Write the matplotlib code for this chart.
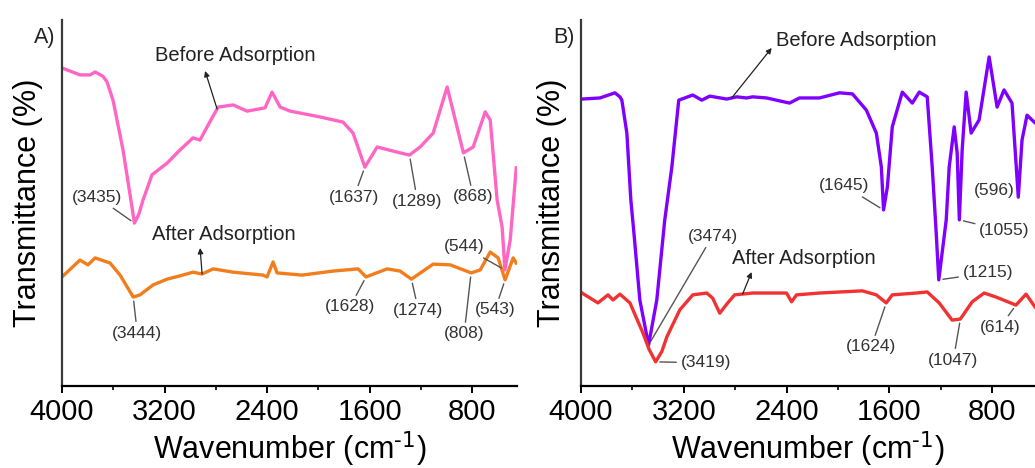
import numpy as np
import matplotlib
matplotlib.use("Agg")
import matplotlib.pyplot as plt
from matplotlib.ticker import MultipleLocator

plt.rcParams['font.family'] = ['Liberation Sans', 'DejaVu Sans']
plt.rcParams['mathtext.default'] = 'regular'

# FTIR spectra, panel A
wn_a_before = [4000, 3860, 3781, 3742, 3680, 3649, 3602, 3524, 3454, 3435, 3400, 3368, 3298, 3180,
               3079, 2978, 2923, 2868, 2782, 2665, 2556, 2416, 2361, 2298, 2220, 1986, 1807, 1729,
               1637, 1541, 1385, 1289, 1206, 1104, 995, 868, 792, 698, 659, 605, 566, 544, 503, 456]
t_a_before = [86.9, 85.0, 85.0, 85.8, 84.6, 83.1, 78.1, 64.5, 48.9, 44.5, 47.0, 50.8, 57.7, 60.9,
              64.5, 67.8, 67.2, 70.8, 76.2, 76.8, 75.1, 76.0, 80.3, 76.2, 75.1, 73.5, 72.1, 69.1,
              59.8, 65.3, 63.9, 63.1, 65.3, 69.1, 81.7, 63.7, 65.3, 74.9, 72.7, 50.8, 43.4, 31.7,
              39.9, 59.6]

wn_a_after = [4000, 3860, 3797, 3742, 3625, 3547, 3444, 3391, 3290, 3180, 3079, 2978, 2907, 2821,
              2665, 2431, 2400, 2353, 2322, 2127, 1885, 1690, 1628, 1463, 1362, 1274, 1104, 971,
              808, 737, 659, 597, 543, 480, 456]
t_a_after = [29.8, 34.4, 33.1, 35.0, 33.6, 30.3, 24.3, 24.9, 27.6, 29.2, 30.1, 31.1, 30.6, 32.0,
             31.1, 30.3, 29.8, 33.9, 30.9, 30.3, 31.4, 32.0, 29.8, 32.0, 31.4, 29.2, 33.3, 33.1,
             30.9, 31.7, 36.6, 35.0, 29.0, 35.0, 33.6]

# FTIR spectra, panel B
wn_b_before = [3992, 3852, 3736, 3697, 3682, 3643, 3612, 3588, 3542, 3474, 3410, 3348, 3293, 3239,
               3130, 3060, 2998, 2866, 2788, 2711, 2664, 2555, 2377, 2299, 2144, 1988, 1887, 1779,
               1701, 1662, 1645, 1615, 1577, 1499, 1421, 1367, 1305, 1266, 1235, 1215, 1157, 1134,
               1095, 1072, 1055, 1033, 1002, 963, 901, 823, 761, 707, 645, 596, 567, 528, 466]
t_b_before = [78.4, 78.7, 80.1, 79.0, 78.1, 69.1, 50.8, 41.8, 23.5, 11.2, 23.5, 45.4, 59.8, 78.1,
              79.5, 78.1, 79.2, 78.4, 79.0, 78.7, 79.0, 78.7, 77.3, 78.7, 78.7, 80.1, 79.8, 75.4,
              69.1, 59.8, 48.1, 54.4, 70.8, 80.3, 77.3, 80.3, 79.0, 59.8, 41.8, 29.0, 45.4, 59.8,
              70.8, 63.7, 45.4, 64.5, 80.3, 69.1, 72.7, 89.9, 76.2, 80.9, 77.3, 51.6, 67.2, 74.0,
              71.9]

wn_b_after = [3992, 3868, 3790, 3751, 3697, 3619, 3518, 3470, 3419, 3370, 3332, 3231, 3130, 3021,
              2975, 2920, 2858, 2804, 2664, 2400, 2361, 2322, 2144, 1810, 1701, 1624, 1577, 1390,
              1305, 1212, 1111, 1047, 955, 862, 769, 614, 536, 466]
t_b_after = [25.4, 22.7, 24.9, 23.5, 25.1, 22.7, 14.5, 10.0, 6.6, 9.5, 13.4, 20.8, 24.9, 25.4,
             24.0, 19.9, 22.7, 24.9, 25.4, 25.4, 23.0, 24.9, 25.4, 26.0, 24.9, 22.7, 24.9, 25.4,
             25.7, 22.7, 18.0, 18.3, 23.0, 25.4, 24.3, 22.1, 25.1, 21.6]

# labelled bands: (wavenumber, which curve, text offset in pixels)
peaks_a = [(3435, 'before', (-37, 26)), (1637, 'before', (-11, -30)), (1289, 'before', (8, -46)),
           (868, 'before', (10, -44)), (544, 'before', (-41, 23)),
           (3444, 'after', (4, -36)), (1628, 'after', (-16, -30)), (1274, 'after', (7, -31)),
           (808, 'after', (-7, -61)), (543, 'after', (-10, -30))]
peaks_b = [(1645, 'before', (-39, 24)), (596, 'before', (-24, 7)), (1055, 'before', (45, -11)),
           (1215, 'before', (49, 7)), (3474, 'before', (64, 109)),
           (3419, 'after', (50, -1)), (1624, 'after', (-15, -44)), (1047, 'after', (-7, -41)),
           (614, 'after', (-16, -22))]


def y_at(wn, t, x):
    return np.interp(x, np.array(wn)[::-1], np.array(t)[::-1])


fig = plt.figure(figsize=(10.35, 4.68), dpi=100)
ax_a = fig.add_axes([62 / 1035, 1 - 386 / 468, 455 / 1035, 366 / 468])
ax_b = fig.add_axes([581 / 1035, 1 - 386 / 468, 454 / 1035, 366 / 468])

panels = [
    (ax_a, wn_a_before, t_a_before, wn_a_after, t_a_after, '#ff66c4', '#f27d1c', peaks_a, 450,
     (2790, (-12, 38), (18, 53)), (2907, (-2, 26), (22, 40)), 14),
    (ax_b, wn_b_before, t_b_before, wn_b_after, t_b_after, '#7f00ff', '#f03232', peaks_b, 466,
     (2827, (40, 50), (125, 57)), (2742, (9, 22), (61, 36)), 10),
]

for ax, wb, tb, wa, ta, cb, ca, peaks, xmin, lab_before, lab_after, ypad in panels:
    ax.plot(wb, tb, color=cb, lw=2.4, solid_joinstyle='round')
    ax.plot(wa, ta, color=ca, lw=2.4, solid_joinstyle='round')
    ax.set_xlim(4000, xmin)
    ax.set_ylim(0, 100)
    ax.xaxis.set_major_locator(MultipleLocator(800))
    ax.xaxis.set_minor_locator(MultipleLocator(400))
    ax.set_yticks([])
    ax.spines['top'].set_visible(False)
    ax.spines['right'].set_visible(False)
    ax.spines['left'].set_color('#3a3a3a')
    ax.spines['left'].set_linewidth(1.6)
    ax.spines['bottom'].set_linewidth(1.6)
    ax.tick_params(axis='x', which='major', direction='out', length=5, width=1.4, labelsize=21, pad=4)
    ax.tick_params(axis='x', which='minor', direction='out', length=3, width=1.2)
    ax.set_xlabel(r'Wavenumber (cm$^{\text{-1}}$)', fontsize=22, labelpad=2)
    ax.set_ylabel('Transmittance (%)', fontsize=22, labelpad=ypad)

    curves = {'before': (wb, tb), 'after': (wa, ta)}
    for x, which, off in peaks:
        y = y_at(*curves[which], x)
        ax.annotate('(%d)' % x, xy=(x, y), xytext=off, textcoords='offset pixels',
                    ha='center', va='center', fontsize=12.5, color='#333333',
                    arrowprops=dict(arrowstyle='-', color='#555555', lw=1, shrinkA=1, shrinkB=3))

    for (x, head, txt), name, (wn, t) in [(lab_before, 'Before Adsorption', (wb, tb)),
                                          (lab_after, 'After Adsorption', (wa, ta))]:
        y = y_at(wn, t, x)
        ax.annotate('', xy=(x, y), xytext=head, textcoords='offset pixels',
                    arrowprops=dict(arrowstyle='<|-', color='#222222', lw=0.9,
                                    mutation_scale=8, shrinkA=0, shrinkB=0))
        ax.annotate(name, xy=(x, y), xytext=txt, textcoords='offset pixels',
                    ha='center', va='center', fontsize=14.5, color='#222222')

fig.text(45 / 1035, 1 - 38 / 468, 'A)', fontsize=15.5, ha='center', va='center', color='#222222')
fig.text(564 / 1035, 1 - 37 / 468, 'B)', fontsize=15.5, ha='center', va='center', color='#222222')

fig.savefig('out.png', dpi=100)
